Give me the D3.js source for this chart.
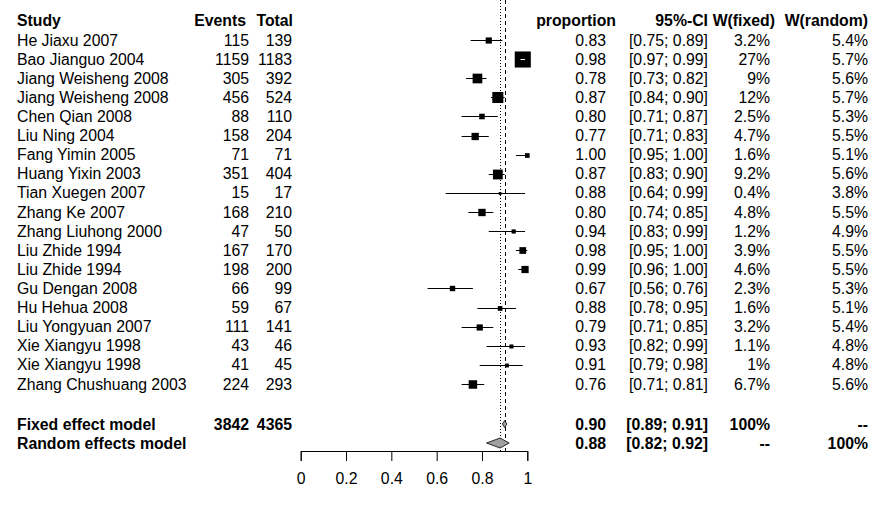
<!DOCTYPE html>
<html>
<head>
<meta charset="utf-8">
<script src="https://cdn.jsdelivr.net/npm/d3@7"></script>
<style>
  body { margin: 0; background: #fff; }
  svg { display: block; }
  text { font-family: "Liberation Sans", Arial, sans-serif; font-size: 15.8px; fill: #000; }
  .b { font-weight: bold; }
</style>
</head>
<body>
<svg id="chart" width="888" height="512"></svg>
<script>
const studies = ["He Jiaxu 2007","Bao Jianguo 2004","Jiang Weisheng 2008","Jiang Weisheng 2008","Chen Qian 2008","Liu Ning 2004","Fang Yimin 2005","Huang Yixin 2003","Tian Xuegen 2007","Zhang Ke 2007","Zhang Liuhong 2000","Liu Zhide 1994","Liu Zhide 1994","Gu Dengan 2008","Hu Hehua 2008","Liu Yongyuan 2007","Xie Xiangyu 1998","Xie Xiangyu 1998","Zhang Chushuang 2003"];
const events = [115,1159,305,456,88,158,71,351,15,168,47,167,198,66,59,111,43,41,224];
const totals = [139,1183,392,524,110,204,71,404,17,210,50,170,200,99,67,141,46,45,293];
const proportion = [0.83,0.98,0.78,0.87,0.80,0.77,1.00,0.87,0.88,0.80,0.94,0.98,0.99,0.67,0.88,0.79,0.93,0.91,0.76];
const ciLower = [0.75,0.97,0.73,0.84,0.71,0.71,0.95,0.83,0.64,0.74,0.83,0.95,0.96,0.56,0.78,0.71,0.82,0.79,0.71];
const ciUpper = [0.89,0.99,0.82,0.90,0.87,0.83,1.00,0.90,0.99,0.85,0.99,1.00,1.00,0.76,0.95,0.85,0.99,0.98,0.81];
const wFixed = ["3.2","27","9","12","2.5","4.7","1.6","9.2","0.4","4.8","1.2","3.9","4.6","2.3","1.6","3.2","1.1","1","6.7"];
const wRandom = ["5.4","5.7","5.6","5.7","5.3","5.5","5.1","5.6","3.8","5.5","4.9","5.5","5.5","5.3","5.1","5.4","4.8","4.8","5.6"];
const models = ["Fixed effect model","Random effects model"];
const modelEvents = ["3842",""];
const modelTotals = ["4365",""];
const modelEst = [0.90,0.88];
const modelLower = [0.89,0.82];
const modelUpper = [0.91,0.92];
const modelWFixed = ["100%","--"];
const modelWRandom = ["--","100%"];
const headers = ["Study","Events","Total","proportion","95%-CI","W(fixed)","W(random)"];
const axisTicks = [0,0.2,0.4,0.6,0.8,1];

const svg = d3.select("#chart");
const f2 = d3.format(".2f");

const x = d3.scaleLinear().domain([0,1]).range([300.7,527.3]);
const rowY = d3.scaleLinear().domain([0,1]).range([40,59.11]);
const headerY = 20;
const modelY = [424,443];
const axisY = 451;
const crisp = v => Math.round(v) + 0.5;

const col = {study:17, events:249, total:292, prop:606, ci:708, wf:770, wr:868};

const hx = [col.study, col.events - 3, col.total + 1, col.prop + 10, col.ci, col.wf + 5, col.wr];
const hAnchor = ["start","end","end","end","end","end","end"];
headers.forEach((h,i)=>{
  svg.append("text").attr("class","b").attr("x",hx[i]).attr("y",headerY).attr("dy","0.35em")
    .attr("text-anchor",hAnchor[i]).text(h);
});

// reference lines
svg.append("line").attr("x1",crisp(x(modelEst[0]))).attr("x2",crisp(x(modelEst[0]))).attr("y1",0).attr("y2",axisY)
  .attr("stroke","#000").attr("stroke-width",1).attr("stroke-dasharray","4,3");
svg.append("line").attr("x1",crisp(x(modelEst[1]))).attr("x2",crisp(x(modelEst[1]))).attr("y1",0).attr("y2",axisY)
  .attr("stroke","#000").attr("stroke-width",1).attr("stroke-dasharray","1,2");

studies.forEach((s,i)=>{
  const y = rowY(i);
  const g = svg.append("g");
  g.append("text").attr("x",col.study).attr("y",y).attr("dy","0.35em").text(s);
  g.append("text").attr("x",col.events).attr("y",y).attr("dy","0.35em").attr("text-anchor","end").text(events[i]);
  g.append("text").attr("x",col.total).attr("y",y).attr("dy","0.35em").attr("text-anchor","end").text(totals[i]);
  g.append("text").attr("x",col.prop).attr("y",y).attr("dy","0.35em").attr("text-anchor","end").text(f2(proportion[i]));
  g.append("text").attr("x",col.ci).attr("y",y).attr("dy","0.35em").attr("text-anchor","end")
    .text("[" + f2(ciLower[i]) + "; " + f2(ciUpper[i]) + "]");
  g.append("text").attr("x",col.wf).attr("y",y).attr("dy","0.35em").attr("text-anchor","end").text(wFixed[i] + "%");
  g.append("text").attr("x",col.wr).attr("y",y).attr("dy","0.35em").attr("text-anchor","end").text(wRandom[i] + "%");

  const side = 2.9*Math.sqrt(+wFixed[i]) + 1;
  const yy = crisp(y);
  g.append("line").attr("x1",x(ciLower[i])).attr("x2",x(ciUpper[i])).attr("y1",yy).attr("y2",yy)
    .attr("stroke","#000").attr("stroke-width",1);
  g.append("rect").attr("x",x(proportion[i]) - side/2).attr("y",yy - side/2)
    .attr("width",side).attr("height",side).attr("fill","#000");
  if (x(ciUpper[i]) - x(ciLower[i]) < side) {
    g.append("line").attr("x1",x(ciLower[i])).attr("x2",x(ciUpper[i])).attr("y1",yy).attr("y2",yy)
      .attr("stroke","#fff").attr("stroke-width",1);
  }
});

models.forEach((m,i)=>{
  const y = modelY[i];
  const g = svg.append("g");
  g.append("text").attr("class","b").attr("x",col.study).attr("y",y).attr("dy","0.35em").text(m);
  g.append("text").attr("class","b").attr("x",col.events).attr("y",y).attr("dy","0.35em").attr("text-anchor","end").text(modelEvents[i]);
  g.append("text").attr("class","b").attr("x",col.total).attr("y",y).attr("dy","0.35em").attr("text-anchor","end").text(modelTotals[i]);
  g.append("text").attr("class","b").attr("x",col.prop).attr("y",y).attr("dy","0.35em").attr("text-anchor","end").text(f2(modelEst[i]));
  g.append("text").attr("class","b").attr("x",col.ci).attr("y",y).attr("dy","0.35em").attr("text-anchor","end")
    .text("[" + f2(modelLower[i]) + "; " + f2(modelUpper[i]) + "]");
  g.append("text").attr("class","b").attr("x",col.wf).attr("y",y).attr("dy","0.35em").attr("text-anchor","end").text(modelWFixed[i]);
  g.append("text").attr("class","b").attr("x",col.wr).attr("y",y).attr("dy","0.35em").attr("text-anchor","end").text(modelWRandom[i]);

  const h = i === 0 ? 3.5 : 5;
  const pts = [[x(modelLower[i]),y],[x(modelEst[i]),y-h],[x(modelUpper[i]),y],[x(modelEst[i]),y+h]];
  svg.append("path").attr("d","M" + pts.map(p=>p.join(",")).join("L") + "Z")
    .attr("fill","#a0a0a0").attr("stroke","#000").attr("stroke-width",0.8);
});

const axis = d3.axisBottom(x).tickValues(axisTicks).tickSize(10).tickPadding(12)
  .tickFormat(d => d === 0 ? "0" : d === 1 ? "1" : d3.format(".1f")(d));
const ag = svg.append("g").attr("transform","translate(0," + axisY + ")").call(axis);
ag.selectAll("path, line").attr("stroke","#000").attr("stroke-width",1);
ag.selectAll("text").style("font-family","\"Liberation Sans\", Arial, sans-serif").style("font-size","15.8px").attr("fill","#000");
</script>
</body>
</html>
